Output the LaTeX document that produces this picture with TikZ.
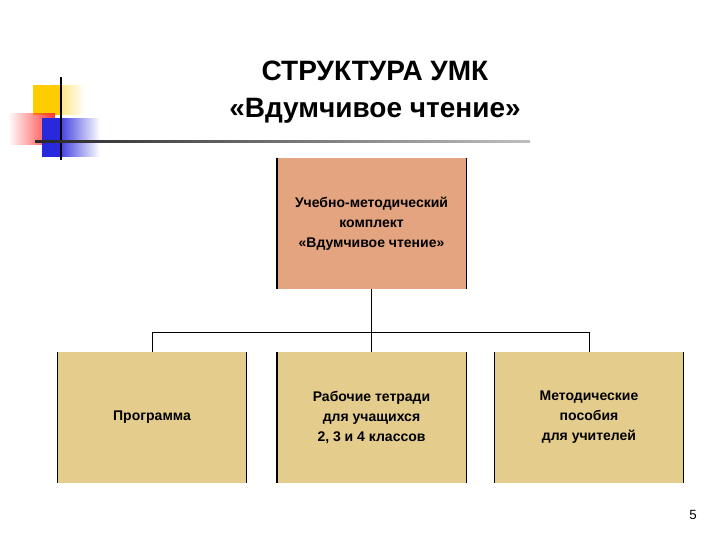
\documentclass[tikz,border=0pt]{standalone}
\usepackage{fontspec}
\setmainfont{Liberation Sans}
\usetikzlibrary{fadings}
\definecolor{topfill}{RGB}{228,164,128}
\definecolor{botfill}{RGB}{228,204,140}
\definecolor{ylw}{RGB}{255,204,0}
\definecolor{blu}{RGB}{40,40,220}
\begin{document}
\begin{tikzpicture}[x=0.75pt,y=-0.75pt,
  box/.style={fill=#1,minimum width=141pt,minimum height=98.25pt,inner sep=0pt,align=center,font=\fontsize{10.5}{15}\selectfont\bfseries,
    append after command={\pgfextra{\draw[black,line width=1.6pt] (\tikzlastnode.north west)--(\tikzlastnode.south west) (\tikzlastnode.north east)--(\tikzlastnode.south east);}}},
  conn/.style={black,line width=0.6pt}]
\useasboundingbox (0,0) rectangle (720,540);
% decoration
\fill[ylw,path fading=east] (33,85) rectangle (85,115);
\fill[ylw] (33,85) rectangle (60,115);
\fill[red!80,path fading=west] (8,113) rectangle (55,145);
\fill[blu,path fading=east] (55,118) rectangle (100,157);
\fill[blu] (42,118) rectangle (62,157);
\draw[black,line width=2pt] (61,77) -- (61,160);
\shade[left color=black!85,right color=black!25] (35,140) rectangle (530,142.5);
% title
\node (title) at (375,92) [align=center,font=\fontsize{21}{28}\selectfont\bfseries] {СТРУКТУРА УМК\\«Вдумчивое чтение»};
% boxes
\node[box=topfill] (top) at (371.5,223.5) {Учебно-методический\\комплект\\«Вдумчивое чтение»};
\node[box=botfill] (b1) at (152,417.5) {Программа};
\node[box=botfill] (b2) at (371.5,417.5) {Рабочие тетради\\для учащихся\\2, 3 и 4 классов};
\node[box=botfill] (b3) at (589,417.5) {Методические\\пособия\\для учителей};
\coordinate (j) at (371.5,332);
\draw[conn] (top.south) -- (j);
\draw[conn] (b1.north) -- (b1.north |- j) -- (b3.north |- j) -- (b3.north);
\draw[conn] (j) -- (b2.north);
\node (pg) at (693,515) [font=\fontsize{10}{12}\selectfont] {5};
\end{tikzpicture}
\end{document}
